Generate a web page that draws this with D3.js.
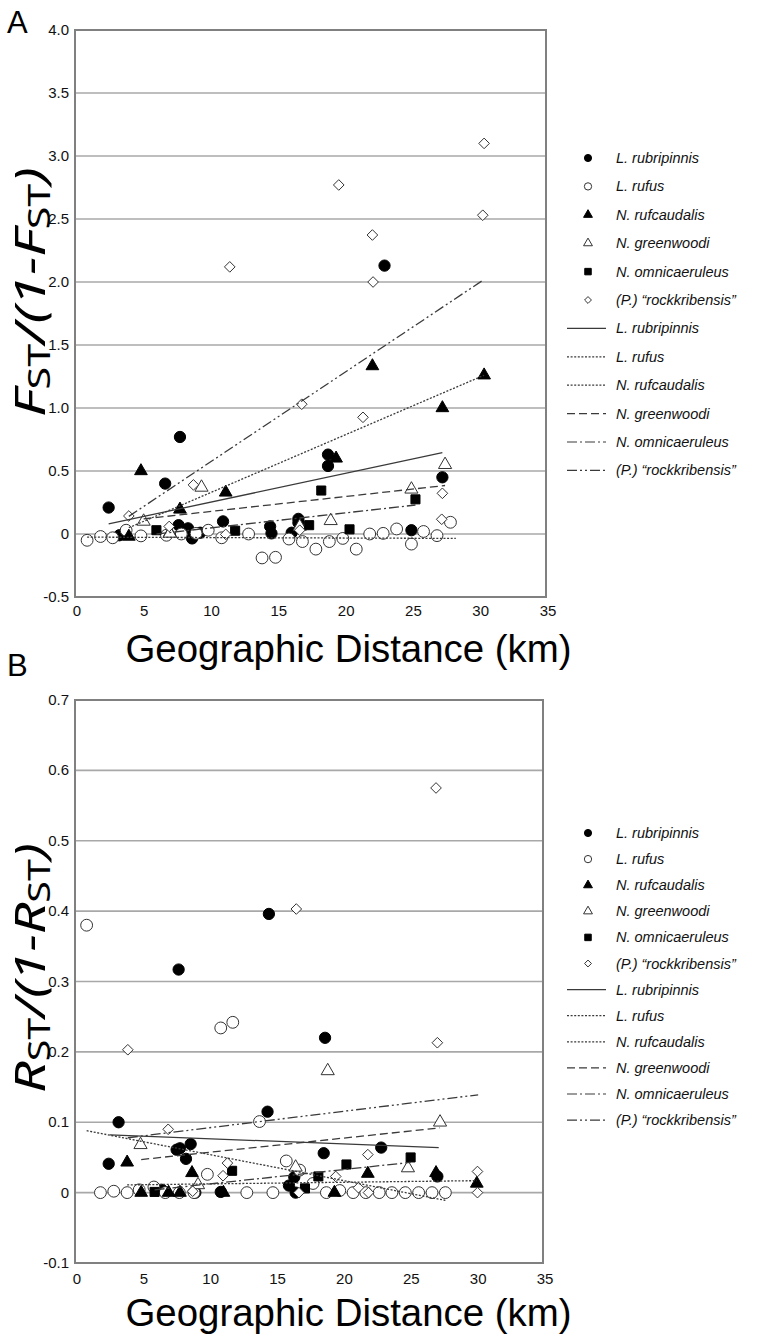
<!DOCTYPE html>
<html><head><meta charset="utf-8">
<script src="https://cdn.jsdelivr.net/npm/d3@7"></script>
<style>body{margin:0;background:#fff}svg{display:block}</style>
</head><body>
<svg id="c" width="762" height="1337"></svg>
<script>
// ---------- data ----------
const species = ["L. rubripinnis","L. rufus","N. rufcaudalis","N. greenwoodi","N. omnicaeruleus","(P.) \u201crockkribensis\u201d"];
const xTicks = [0,5,10,15,20,25,30,35];
const yTicksA = [-0.5,0,0.5,1.0,1.5,2.0,2.5,3.0,3.5,4.0];
const yTickLabelsA = ["-0.5","0","0.5","1.0","1.5","2.0","2.5","3.0","3.5","4.0"];
const yTicksB = [-0.1,0,0.1,0.2,0.3,0.4,0.5,0.6,0.7];
const yTickLabelsB = ["-0.1","0","0.1","0.2","0.3","0.4","0.5","0.6","0.7"];

// Panel A: FST/(1-FST) vs distance (km)
const A_rubripinnis = [[2.5,0.21],[3.3,-0.01],[6.7,0.40],[7.8,0.77],[7.7,0.07],[8.4,0.045],[8.7,-0.035],[9.3,0.01],[11.0,0.10],[14.5,0.06],[14.6,0.005],[16.1,0.01],[16.6,0.12],[16.6,0.09],[18.8,0.63],[18.8,0.54],[23.0,2.13],[27.3,0.45],[25.0,0.03]];
const A_rufus = [[0.9,-0.05],[1.9,-0.02],[2.8,-0.03],[3.8,0.03],[4.9,-0.015],[6.8,-0.01],[7.9,0.0],[9.0,0.005],[9.9,0.03],[10.9,-0.03],[12.9,0.0],[13.9,-0.19],[14.9,-0.185],[15.9,-0.04],[16.9,-0.06],[17.9,-0.12],[18.9,-0.06],[19.9,-0.035],[20.9,-0.12],[21.9,0.0],[22.9,0.005],[23.9,0.04],[25.0,-0.08],[25.9,0.02],[26.9,-0.013],[27.9,0.093]];
const A_rufcaudalis = [[4.9,0.5],[4.0,-0.02],[7.8,0.195],[7.05,0.01],[11.2,0.33],[19.4,0.60],[22.1,1.333],[27.3,1.0],[30.4,1.26]];
const A_greenwoodi = [[5.1,0.10],[9.4,0.37],[7.05,0.005],[16.7,0.06],[19.0,0.105],[25.0,0.355],[27.5,0.55]];
const A_omnicaeruleus = [[6.05,0.03],[11.9,0.026],[17.4,0.07],[18.3,0.345],[20.4,0.037],[25.3,0.275]];
const A_rockkribensis = [[4.0,0.143],[8.8,0.39],[7.0,0.06],[11.2,-0.003],[11.5,2.12],[16.85,1.03],[16.7,0.03],[19.6,2.77],[22.1,2.373],[22.15,2.0],[21.4,0.926],[27.3,0.323],[27.25,0.117],[30.4,3.10],[30.3,2.53]];
// fitted lines (start, end)
const A_fit_rubripinnis = [[2.5,0.08],[27.3,0.645]];
const A_fit_rufus = [[0.9,-0.025],[28.3,-0.035]];
const A_fit_rufcaudalis = [[4.0,0.05],[30.4,1.26]];
const A_fit_greenwoodi = [[5.1,0.12],[27.5,0.385]];
const A_fit_omnicaeruleus = [[6.05,0.0],[25.3,0.23]];
const A_fit_rockkribensis = [[4.0,0.14],[30.4,2.02]];

// Panel B: RST/(1-RST) vs distance (km)
const B_rubripinnis = [[3.26,0.100],[2.52,0.041],[7.6,0.061],[7.85,0.063],[8.65,0.069],[8.3,0.048],[7.75,0.317],[14.5,0.396],[14.4,0.115],[10.9,0.001],[9.0,0.0],[6.5,0.004],[16.4,0.022],[16.0,0.01],[16.5,0.0],[18.7,0.22],[18.6,0.056],[22.9,0.064],[27.1,0.023]];
const B_rufus = [[0.87,0.38],[10.9,0.234],[11.8,0.242],[13.8,0.101],[1.9,0.0],[2.9,0.002],[3.9,0.0],[4.8,0.004],[5.9,0.008],[6.75,0.0],[7.8,0.0],[8.9,0.0],[9.9,0.026],[12.85,0.0],[14.8,0.0],[15.8,0.045],[16.8,0.032],[17.8,0.013],[18.8,0.0],[19.8,0.003],[20.8,0.0],[21.75,0.0],[22.75,0.0],[23.7,0.0],[24.7,0.0],[25.7,0.0],[26.7,0.0],[27.7,0.0]];
const B_rufcaudalis = [[3.9,0.043],[4.95,0.0],[7.0,0.0],[7.85,0.0],[8.75,0.028],[11.1,0.0],[19.4,0.0],[21.9,0.027],[27.0,0.028],[30.05,0.013]];
const B_greenwoodi = [[4.9,0.068],[9.2,0.011],[16.5,0.036],[18.9,0.173],[24.9,0.035],[27.3,0.10]];
const B_omnicaeruleus = [[5.95,0.001],[11.75,0.031],[17.2,0.006],[18.2,0.023],[20.3,0.04],[25.1,0.05]];
const B_rockkribensis = [[3.95,0.203],[6.97,0.09],[11.4,0.042],[11.07,0.024],[8.8,0.002],[16.75,0.0],[16.55,0.403],[27.0,0.575],[27.1,0.213],[21.9,0.054],[19.5,0.023],[21.2,0.007],[21.95,0.0],[30.1,0.03],[30.1,0.0]];
const B_fit_rubripinnis = [[2.6,0.082],[27.2,0.064]];
const B_fit_rufus = [[0.87,0.088],[27.7,-0.011]];
const B_fit_rufcaudalis = [[3.9,0.011],[30.05,0.017]];
const B_fit_greenwoodi = [[4.95,0.047],[27.3,0.092]];
const B_fit_omnicaeruleus = [[5.95,0.004],[25.1,0.043]];
const B_fit_rockkribensis = [[3.95,0.078],[30.15,0.139]];

// ---------- styles ----------
const symTypes = [d3.symbolCircle,d3.symbolCircle,d3.symbolTriangle,d3.symbolTriangle,d3.symbolSquare,d3.symbolDiamond2];
const symFilled = [true,false,true,false,true,false];
const symSize = [100,110,70,75,82,72];
const legSize = [40,42,34,34,42,30];
const dashes = [null,"2,1.6","2,1.6","8,4","10,3,2,3","10,3,2,3,2,3"];

const svg = d3.select("#c");
const FONT = "'Liberation Sans', Arial, sans-serif";
const TFONT = "'Noto Sans', 'Open Sans', sans-serif";

function panel(cfg){
  const {x,y,yTicks,yLabels,points,fits,letter,letterY,titleMain,titleCenterY,xTitleY,legY0,legStep,tickLabelY} = cfg;
  const g = svg.append("g");
  const [x0,x1] = x.range();
  const [yb,yt] = y.range();
  // gridlines
  g.selectAll("line.grid").data(yTicks.slice(1,-1)).join("line")
    .attr("x1",x0).attr("x2",x1).attr("y1",d=>y(d)).attr("y2",d=>y(d))
    .attr("stroke","#a8a8a8").attr("stroke-width",1.6);
  // frame
  g.append("rect").attr("x",x0).attr("y",yt).attr("width",x1-x0).attr("height",yb-yt)
    .attr("fill","none").attr("stroke","#808080").attr("stroke-width",2);
  // y tick labels
  g.selectAll("text.yt").data(yTicks).join("text")
    .attr("x",x0-6).attr("y",d=>y(d)+5).attr("text-anchor","end")
    .attr("font-family",FONT).attr("font-size",15).attr("fill","#111")
    .text((d,i)=>yLabels[i]);
  // x tick labels
  g.selectAll("text.xt").data(xTicks).join("text")
    .attr("x",d=>x(d)+2).attr("y",tickLabelY).attr("text-anchor","middle")
    .attr("font-family",FONT).attr("font-size",15).attr("fill","#111")
    .text(d=>d);
  // points
  points.forEach((pts,si)=>{
    const sym = d3.symbol().type(symTypes[si]).size(symSize[si]);
    g.selectAll(null).data(pts).join("path")
      .attr("d",sym)
      .attr("transform",d=>`translate(${x(d[0])},${y(d[1])})`)
      .attr("fill",symFilled[si]?"#000":"#fff")
      .attr("stroke",symFilled[si]?"#000":"#333")
      .attr("stroke-width",1);
  });
  // fits
  const line = d3.line().x(d=>x(d[0])).y(d=>y(d[1]));
  fits.forEach((f,si)=>{
    g.append("path").attr("d",line(f)).attr("fill","none")
      .attr("stroke","#3a3a3a").attr("stroke-width",1.3)
      .attr("stroke-dasharray",dashes[si]);
  });
  // letter
  svg.append("text").attr("x",7).attr("y",letterY).attr("font-family",FONT)
    .attr("font-size",31).attr("fill","#000").text(letter);
  // x title
  svg.append("text").attr("x",(127+570)/2).attr("y",xTitleY).attr("text-anchor","middle")
    .attr("font-family",FONT).attr("font-size",38).attr("fill","#000")
    .attr("textLength",446).attr("lengthAdjust","spacingAndGlyphs")
    .text("Geographic Distance (km)");
  // y title
  const yt0 = svg.append("text").attr("font-family",TFONT).attr("font-size",42).attr("fill","#000")
    .attr("transform",`translate(45,${titleCenterY}) rotate(-90)`).attr("text-anchor","middle");
  const parts = [[titleMain,"italic",false],["ST","normal",true],["/(1-","italic",false],[titleMain,"italic",false],["ST","normal",true],[")","italic",false]];
  parts.forEach(p=>{
    const ts = yt0.append("tspan").attr("font-style",p[1]).text(p[0]);
    if(p[2]) ts.attr("font-size",30).attr("baseline-shift","-18%");
  });
  yt0.attr("textLength",250).attr("lengthAdjust","spacingAndGlyphs");
  // legend
  const lg = svg.append("g");
  species.forEach((s,i)=>{
    const yy = legY0 + legStep*i;
    const sym = d3.symbol().type(symTypes[i]).size(legSize[i]);
    lg.append("path").attr("d",sym).attr("transform",`translate(588,${yy})`)
      .attr("fill",symFilled[i]?"#000":"#fff").attr("stroke",symFilled[i]?"#000":"#333").attr("stroke-width",1);
    lg.append("text").attr("x",616).attr("y",yy+5).attr("font-family",FONT).attr("font-style","italic")
      .attr("font-size",14.5).attr("fill","#111").text(s);
  });
  species.forEach((s,i)=>{
    const yy = legY0 + legStep*(i+6);
    lg.append("line").attr("x1",567).attr("x2",606).attr("y1",yy).attr("y2",yy)
      .attr("stroke","#3a3a3a").attr("stroke-width",1.2).attr("stroke-dasharray",dashes[i]);
    lg.append("text").attr("x",616).attr("y",yy+5).attr("font-family",FONT).attr("font-style","italic")
      .attr("font-size",14.5).attr("fill","#111").text(s);
  });
}

panel({
  x:d3.scaleLinear([0,35],[75,546]), y:d3.scaleLinear([-0.5,4],[597,30]),
  yTicks:yTicksA, yLabels:yTickLabelsA,
  points:[A_rubripinnis,A_rufus,A_rufcaudalis,A_greenwoodi,A_omnicaeruleus,A_rockkribensis],
  fits:[A_fit_rubripinnis,A_fit_rufus,A_fit_rufcaudalis,A_fit_greenwoodi,A_fit_omnicaeruleus,A_fit_rockkribensis],
  letter:"A", letterY:33, titleMain:"F", titleCenterY:292, xTitleY:662,
  legY0:158, legStep:28.4, tickLabelY:616
});
panel({
  x:d3.scaleLinear([0,35],[75,543]), y:d3.scaleLinear([-0.1,0.7],[1263,700]),
  yTicks:yTicksB, yLabels:yTickLabelsB,
  points:[B_rubripinnis,B_rufus,B_rufcaudalis,B_greenwoodi,B_omnicaeruleus,B_rockkribensis],
  fits:[B_fit_rubripinnis,B_fit_rufus,B_fit_rufcaudalis,B_fit_greenwoodi,B_fit_omnicaeruleus,B_fit_rockkribensis],
  letter:"B", letterY:676, titleMain:"R", titleCenterY:968, xTitleY:1326,
  legY0:833, legStep:26.1, tickLabelY:1284
});
</script>
</body></html>
